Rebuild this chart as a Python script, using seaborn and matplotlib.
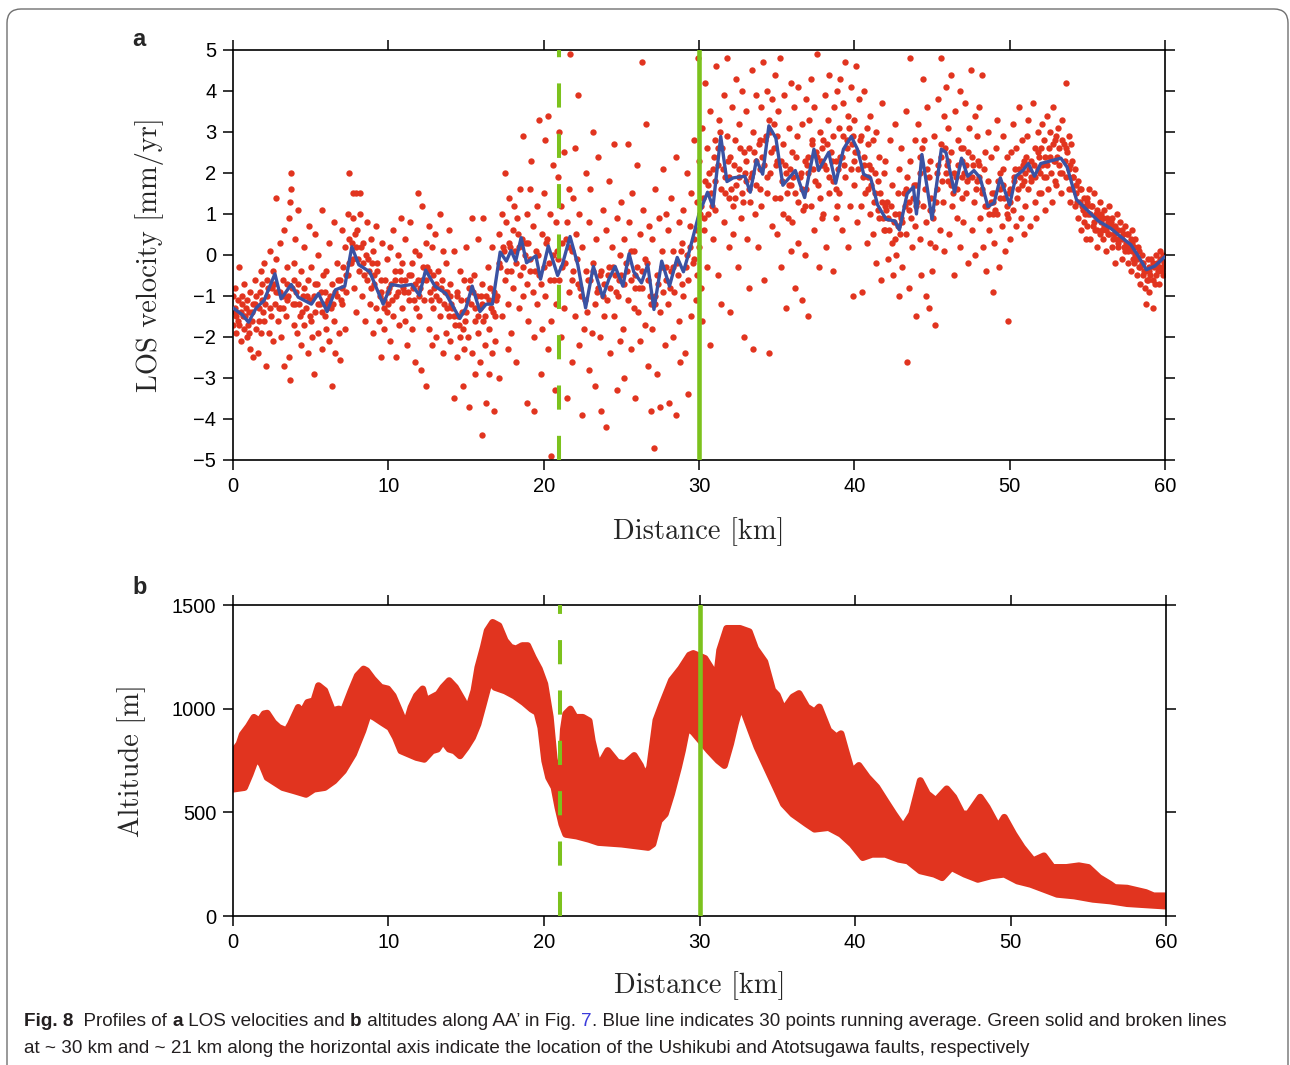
import matplotlib
matplotlib.use("Agg")
import matplotlib.pyplot as plt
from matplotlib.patches import FancyBboxPatch
from matplotlib.transforms import IdentityTransform
import seaborn as sns
import pandas as pd

# ---- panel a: LOS velocity samples (km, mm/yr) ----
los_pts_00_10 = [
    (0.0,-1.0),(0.0,-1.7),(0.1,-1.3),(0.1,-0.8),(0.2,-1.9),(0.2,-1.5),(0.3,-1.1),(0.4,-0.3),(0.4,-1.7),(0.5,-1.4),(0.5,-2.1),(0.6,-1.2),(0.7,-1.8),(0.7,-0.7),(0.8,-1.5),(0.9,-1.1),(0.9,-2.0),
    (1.0,-1.4),(1.1,-0.9),(1.1,-2.3),(1.2,-1.6),(1.3,-2.5),(1.3,-1.2),(1.4,-0.6),(1.5,-1.8),(1.5,-1.0),(1.6,-2.4),(1.7,-1.3),(1.8,-0.4),(1.8,-1.9),(1.9,-1.1),(1.9,-0.7),
    (2.0,-1.6),(2.0,-0.2),(2.1,-2.7),(2.2,-1.0),(2.2,-0.6),(2.3,-1.9),(2.4,-1.3),(2.4,0.1),(2.5,-0.8),(2.6,-2.1),(2.6,-0.4),(2.7,-1.2),(2.8,1.4),(2.8,-0.1),(2.9,-1.6),(2.9,-0.9),
    (3.0,-1.3),(3.0,0.3),(3.1,-2.0),(3.2,-0.6),(3.2,-1.0),(3.3,-2.7),(3.3,0.6),(3.4,-1.5),(3.5,-0.3),(3.5,-1.1),(3.6,-2.5),(3.6,0.9),(3.7,1.3),(3.7,-3.05),(3.75,2.0),(3.75,1.6),(3.8,-0.8),(3.9,-1.7),(3.9,-0.2),
    (4.0,-1.2),(4.0,0.4),(4.1,-1.9),(4.2,1.1),(4.2,-0.7),(4.3,-1.5),(4.4,-2.2),(4.4,-0.4),(4.5,-1.0),(4.6,0.2),(4.6,-1.7),(4.7,-1.3),(4.8,-2.4),(4.8,-0.6),(4.9,-1.1),(4.9,0.7),
    (5.0,-1.6),(5.0,-0.3),(5.1,-2.0),(5.2,-2.9),(5.2,-1.0),(5.3,0.5),(5.3,-1.4),(5.4,-0.7),(5.5,-1.9),(5.5,0.0),(5.6,-1.2),(5.7,1.1),(5.7,-2.3),(5.8,-0.5),(5.9,-1.5),(5.9,-0.9),
    (6.0,-1.8),(6.0,-0.4),(6.1,-1.1),(6.2,0.3),(6.2,-2.1),(6.3,-1.3),(6.4,-3.2),(6.4,-0.7),(6.5,-1.6),(6.5,0.8),(6.6,-2.4),(6.7,-0.2),(6.7,-1.0),(6.8,-1.9),(6.9,-2.55),(6.9,-0.6),
    (7.0,-1.2),(7.0,0.6),(7.1,-0.3),(7.2,-1.8),(7.2,0.2),(7.3,-0.9),(7.4,1.0),(7.4,-0.5),(7.5,2.0),(7.5,0.4),(7.6,-0.2),(7.7,1.5),(7.7,0.9),(7.8,-0.8),(7.9,1.5),(7.9,0.2),(7.95,-1.4),
    (8.0,0.6),(8.1,-0.4),(8.2,1.5),(8.2,1.0),(8.3,-1.0),(8.4,0.3),(8.4,-0.2),(8.5,-1.6),(8.6,0.8),(8.6,-0.6),(8.7,-0.1),(8.8,-1.2),(8.9,0.4),(8.9,-0.8),(9.0,-1.9),
    (9.0,0.1),(9.1,-0.5),(9.2,-1.3),(9.2,0.7),(9.3,-0.2),(9.4,-1.6),(9.5,-0.9),(9.5,-2.5),(9.6,0.3),(9.7,-1.1),(9.7,-1.8),(9.8,-0.6),(9.9,-1.4),(9.9,-0.1),
]
los_pts_10_20 = [
    (10.0,-1.2),(10.1,0.2),(10.1,-2.1),(10.2,-0.7),(10.3,-1.5),(10.3,0.6),(10.4,-0.4),(10.5,-2.5),(10.5,-1.0),(10.6,0.0),(10.7,-1.7),(10.8,-0.6),(10.8,0.9),(10.9,-1.3),(10.9,-0.2),
    (11.0,-0.9),(11.1,-1.6),(11.1,0.4),(11.2,-2.2),(11.3,-0.5),(11.3,-1.1),(11.4,0.8),(11.5,-0.2),(11.5,-1.8),(11.6,-0.8),(11.7,-2.6),(11.7,0.1),(11.8,-1.3),(11.9,-0.6),(11.9,1.5),
    (12.0,-1.5),(12.0,0.0),(12.1,-2.8),(12.2,-0.6),(12.2,1.2),(12.3,-1.1),(12.4,0.3),(12.4,-3.2),(12.5,-0.3),(12.6,-1.8),(12.6,0.7),(12.7,-0.9),(12.8,-2.2),(12.8,0.2),(12.9,-1.3),(12.9,-0.5),
    (13.0,0.5),(13.1,-1.0),(13.1,-2.0),(13.2,-0.4),(13.3,1.0),(13.3,-1.5),(13.4,-0.8),(13.5,-2.4),(13.5,0.1),(13.6,-1.2),(13.7,-0.2),(13.7,-1.9),(13.8,-0.9),(13.9,0.6),(13.9,-1.5),
    (14.0,-0.7),(14.0,-2.1),(14.1,-1.3),(14.2,0.1),(14.2,-3.5),(14.3,-1.7),(14.4,-0.9),(14.4,-2.5),(14.5,-1.5),(14.6,-0.4),(14.6,-2.0),(14.7,-1.1),(14.8,-1.8),(14.8,-3.2),(14.9,-0.6),(14.9,-2.3),
    (15.0,-1.4),(15.0,0.2),(15.1,-2.0),(15.2,-3.7),(15.2,-0.8),(15.3,-1.2),(15.4,0.9),(15.4,-2.4),(15.5,-0.5),(15.6,-1.6),(15.6,-2.9),(15.7,-1.0),(15.8,0.4),(15.8,-1.9),(15.9,-2.6),(15.9,-1.3),
    (16.0,-4.4),(16.0,-0.7),(16.1,-1.6),(16.1,0.9),(16.2,-2.2),(16.3,-3.6),(16.3,-1.0),(16.4,-0.3),(16.5,-1.8),(16.5,-2.9),(16.6,-1.3),(16.7,0.2),(16.7,-2.4),(16.8,-3.8),(16.8,-0.9),(16.9,-1.5),(16.9,-2.1),
    (17.0,-1.0),(17.1,0.5),(17.1,-3.0),(17.2,-0.3),(17.3,1.0),(17.3,-1.5),(17.4,0.2),(17.5,-0.6),(17.5,2.0),(17.6,0.8),(17.7,-1.2),(17.7,-2.3),(17.8,0.3),(17.8,1.4),(17.9,-0.4),(17.9,-1.9),
    (18.0,0.6),(18.0,-0.8),(18.1,1.2),(18.2,-0.2),(18.2,-2.6),(18.3,0.9),(18.4,0.2),(18.4,-1.3),(18.5,1.6),(18.5,-0.5),(18.6,0.4),(18.7,2.9),(18.7,-1.0),(18.8,0.0),(18.9,-3.6),(18.9,1.0),(18.95,-0.7),
    (19.0,0.3),(19.0,-1.6),(19.1,1.6),(19.1,-0.4),(19.2,2.3),(19.3,-0.9),(19.3,0.7),(19.4,-2.0),(19.4,-3.8),(19.5,0.1),(19.6,1.2),(19.6,-1.2),(19.7,3.3),(19.7,-0.5),(19.8,-2.9),(19.9,0.5),(19.9,-1.8),
]
los_pts_20_30 = [
    (20.0,1.5),(20.0,-0.3),(20.1,-1.0),(20.1,2.8),(20.2,0.4),(20.3,-2.3),(20.3,3.4),(20.4,-0.6),(20.4,1.0),(20.5,-1.6),(20.5,-4.9),(20.6,0.0),(20.6,2.2),(20.7,-3.3),(20.8,0.8),(20.8,-1.2),(20.9,-0.1),(20.9,1.9),
    (21.0,-0.6),(21.0,3.0),(21.1,1.2),(21.1,-2.0),(21.2,0.3),(21.3,-1.3),(21.3,2.5),(21.4,-0.2),(21.5,-3.5),(21.5,0.8),(21.6,1.6),(21.6,-0.9),(21.7,4.9),(21.8,0.1),(21.8,-2.6),(21.9,1.4),(21.9,-0.4),
    (22.0,2.6),(22.0,-1.5),(22.1,0.5),(22.2,-0.7),(22.2,3.9),(22.3,-2.2),(22.3,1.0),(22.4,-1.0),(22.5,-3.9),(22.5,0.2),(22.6,-1.8),(22.7,2.0),(22.7,-0.4),(22.8,-1.4),(22.9,-2.8),(22.9,0.8),
    (23.0,-0.6),(23.0,1.6),(23.1,-1.9),(23.2,3.0),(23.2,-0.2),(23.3,-1.2),(23.3,-3.2),(23.4,0.4),(23.5,-0.8),(23.5,2.4),(23.6,-2.0),(23.7,-0.4),(23.7,-3.8),(23.8,1.1),(23.9,-1.5),(23.9,-0.7),
    (24.0,-4.2),(24.0,0.6),(24.1,-1.1),(24.2,1.8),(24.2,-0.3),(24.3,-2.4),(24.3,-0.8),(24.4,0.2),(24.5,-1.5),(24.5,2.7),(24.6,-0.5),(24.7,-3.3),(24.7,0.9),(24.8,-1.0),(24.9,-2.1),(24.9,0.0),
    (25.0,-0.5),(25.0,1.3),(25.1,-1.8),(25.2,0.4),(25.2,-3.0),(25.3,-0.2),(25.4,2.7),(25.4,-1.1),(25.5,0.8),(25.6,-0.6),(25.6,-2.3),(25.7,1.5),(25.8,-1.3),(25.8,0.1),(25.9,-3.5),(25.9,-0.8),
    (26.0,2.2),(26.0,-0.3),(26.1,-1.4),(26.2,0.5),(26.2,-2.1),(26.3,4.7),(26.3,-0.8),(26.4,1.1),(26.5,-1.7),(26.5,-0.1),(26.6,3.2),(26.7,-2.7),(26.7,-0.6),(26.8,0.7),(26.9,-1.2),(26.9,-3.8),
    (27.0,-1.8),(27.0,0.4),(27.1,-4.7),(27.2,-1.0),(27.2,1.6),(27.3,-2.9),(27.3,-0.5),(27.4,0.9),(27.5,-1.4),(27.5,-3.7),(27.6,0.1),(27.7,-0.9),(27.7,2.1),(27.8,-2.2),(27.9,-0.3),(27.9,1.0),
    (28.0,-1.2),(28.0,0.6),(28.1,-3.6),(28.2,-0.4),(28.2,1.4),(28.3,-2.0),(28.3,0.1),(28.4,-0.9),(28.5,2.4),(28.5,-3.9),(28.6,-0.2),(28.7,0.8),(28.7,-1.6),(28.8,-2.6),(28.9,0.3),(28.9,-0.7),
    (29.0,1.1),(29.0,-1.0),(29.1,-2.4),(29.2,0.0),(29.2,2.0),(29.3,-0.6),(29.3,-3.4),(29.4,0.7),(29.5,-1.5),(29.5,1.5),(29.6,-0.2),(29.7,2.8),(29.7,0.4),(29.8,-1.1),(29.9,1.3),(29.9,-0.5),(29.95,4.8),
]
los_pts_30_40 = [
    (30.0,0.2),(30.0,2.3),(30.1,-0.8),(30.1,1.2),(30.2,3.1),(30.2,-1.6),(30.3,0.6),(30.4,1.8),(30.4,4.2),(30.5,-0.3),(30.5,2.6),(30.6,1.0),(30.7,-2.2),(30.7,3.5),(30.8,1.5),(30.9,0.4),(30.9,2.1),
    (31.0,2.8),(31.0,1.1),(31.1,4.6),(31.2,-0.5),(31.2,2.2),(31.3,3.3),(31.4,1.6),(31.4,-1.2),(31.5,2.6),(31.6,3.9),(31.6,0.8),(31.7,1.9),(31.8,4.8),(31.8,2.9),(31.9,0.2),(31.9,1.4),
    (32.0,2.4),(32.0,-1.4),(32.1,3.6),(32.2,1.2),(32.2,0.5),(32.3,2.8),(32.4,4.3),(32.4,1.7),(32.5,-0.3),(32.6,2.1),(32.6,3.2),(32.7,0.9),(32.8,1.5),(32.8,4.0),(32.9,2.5),(32.9,-2.0),
    (33.0,1.8),(33.0,3.5),(33.1,0.4),(33.2,2.6),(33.2,-0.8),(33.3,1.3),(33.4,4.5),(33.4,2.0),(33.5,-2.3),(33.5,3.0),(33.6,1.0),(33.7,2.3),(33.7,3.9),(33.8,0.2),(33.9,1.6),(33.9,2.8),
    (34.0,3.6),(34.0,1.2),(34.1,4.7),(34.2,2.2),(34.2,-0.6),(34.3,2.9),(34.4,1.5),(34.4,4.0),(34.5,3.3),(34.5,-2.4),(34.6,2.0),(34.7,0.7),(34.7,3.8),(34.8,2.6),(34.9,4.4),(34.9,1.4),
    (35.0,2.3),(35.0,0.5),(35.1,3.5),(35.2,1.4),(35.2,4.8),(35.3,-0.3),(35.4,2.7),(35.4,1.0),(35.5,3.9),(35.6,2.0),(35.6,-1.3),(35.7,0.9),(35.8,3.1),(35.8,1.7),(35.9,4.2),(35.9,0.1),
    (36.0,2.5),(36.0,0.8),(36.1,3.6),(36.2,1.5),(36.2,-0.8),(36.3,2.9),(36.4,0.3),(36.4,4.1),(36.5,1.9),(36.6,-1.1),(36.6,3.2),(36.7,1.1),(36.8,2.3),(36.8,0.0),(36.9,3.8),(36.9,1.6),
    (37.0,2.0),(37.0,-1.5),(37.1,3.3),(37.2,1.2),(37.2,4.3),(37.3,2.7),(37.4,0.6),(37.4,3.6),(37.5,1.8),(37.6,4.9),(37.6,2.4),(37.7,-0.3),(37.8,3.0),(37.8,1.4),(37.9,2.2),(37.9,0.9),
    (38.0,2.8),(38.0,1.0),(38.1,3.9),(38.2,2.1),(38.2,0.2),(38.3,3.3),(38.4,1.5),(38.4,4.4),(38.5,2.5),(38.6,-0.4),(38.6,1.8),(38.7,3.6),(38.8,0.9),(38.8,2.3),(38.9,4.0),(38.9,1.2),
    (39.0,3.1),(39.0,1.5),(39.1,4.3),(39.2,2.4),(39.2,0.6),(39.3,3.7),(39.4,1.9),(39.4,4.7),(39.5,2.8),(39.6,0.2),(39.6,3.4),(39.7,1.2),(39.8,2.1),(39.8,4.1),(39.9,2.9),(39.9,-1.0),
]
los_pts_40_50 = [
    (40.0,3.3),(40.0,1.7),(40.1,4.6),(40.2,2.5),(40.2,0.8),(40.3,3.8),(40.4,1.2),(40.4,2.9),(40.5,-0.9),(40.6,2.2),(40.6,4.0),(40.7,1.5),(40.8,3.1),(40.8,0.3),(40.9,1.9),(40.9,2.7),
    (41.0,1.0),(41.0,3.4),(41.1,2.1),(41.2,0.5),(41.2,2.8),(41.3,1.5),(41.4,-0.2),(41.4,3.0),(41.5,1.8),(41.6,0.9),(41.6,2.4),(41.7,-0.6),(41.8,1.3),(41.8,3.7),(41.9,0.6),(41.9,2.0),
    (42.0,0.6),(42.0,2.3),(42.1,1.3),(42.2,-0.1),(42.2,0.9),(42.3,2.8),(42.4,0.3),(42.4,1.7),(42.5,-0.5),(42.6,1.0),(42.6,3.2),(42.7,0.0),(42.8,1.5),(42.8,0.7),(42.9,2.1),(42.9,-1.0),
    (43.0,0.9),(43.0,2.6),(43.1,-0.3),(43.2,1.5),(43.3,0.5),(43.3,3.5),(43.4,1.9),(43.5,-0.8),(43.5,1.1),(43.6,4.8),(43.6,2.3),(43.7,0.2),(43.8,1.4),(43.4,-2.6),(43.9,2.8),(43.9,0.7),
    (44.0,1.7),(44.0,-1.5),(44.1,3.2),(44.2,0.4),(44.2,2.4),(44.3,-0.5),(44.4,4.3),(44.4,1.2),(44.5,2.8),(44.6,-1.0),(44.6,0.8),(44.7,3.6),(44.8,1.9),(44.8,-1.3),(44.9,2.3),(44.9,0.3),
    (45.0,1.1),(45.0,-0.4),(45.1,2.9),(45.2,0.2),(45.2,-1.7),(45.3,1.6),(45.4,3.8),(45.4,2.2),(45.5,0.6),(45.6,4.8),(45.6,2.7),(45.7,1.3),(45.8,3.4),(45.8,0.1),(45.9,2.0),(45.9,4.1),
    (46.0,1.8),(46.0,3.1),(46.1,0.5),(46.2,2.5),(46.2,4.4),(46.3,1.2),(46.4,-0.5),(46.4,2.0),(46.5,3.5),(46.6,0.9),(46.6,1.6),(46.7,2.8),(46.8,4.0),(46.8,0.2),(46.9,2.3),(46.9,1.4),
    (47.0,2.6),(47.0,0.8),(47.1,3.7),(47.2,1.5),(47.2,2.2),(47.3,-0.2),(47.4,3.1),(47.4,1.9),(47.5,4.5),(47.6,0.6),(47.6,2.4),(47.7,1.3),(47.8,3.4),(47.8,0.0),(47.9,1.8),(47.9,2.9),
    (48.0,2.2),(48.0,3.6),(48.1,0.9),(48.2,1.6),(48.2,4.4),(48.3,0.2),(48.4,2.5),(48.4,1.2),(48.5,-0.4),(48.6,1.8),(48.6,3.0),(48.7,0.6),(48.8,1.3),(48.8,2.4),(48.9,-0.9),(48.9,1.0),
    (49.0,1.5),(49.0,0.3),(49.1,2.6),(49.2,1.0),(49.2,3.3),(49.3,-0.3),(49.4,2.0),(49.4,1.4),(49.5,0.7),(49.6,2.9),(49.6,1.7),(49.7,0.1),(49.8,1.2),(49.8,2.4),(49.9,-1.6),(49.9,0.9),
]
los_pts_50_60 = [
    (50.0,1.6),(50.0,0.4),(50.1,2.5),(50.2,1.1),(50.2,3.2),(50.3,1.9),(50.4,0.7),(50.4,2.6),(50.5,1.4),(50.6,3.6),(50.6,2.1),(50.7,0.9),(50.8,1.7),(50.8,2.8),(50.9,0.5),(50.9,2.3),
    (51.0,2.0),(51.0,1.2),(51.1,2.9),(51.2,1.6),(51.2,3.3),(51.3,0.7),(51.4,2.3),(51.4,1.9),(51.5,3.7),(51.6,1.3),(51.6,2.6),(51.7,0.9),(51.8,2.1),(51.8,3.0),(51.9,1.5),(51.9,2.4),
    (52.0,2.6),(52.0,1.5),(52.1,3.2),(52.2,1.9),(52.2,2.8),(52.3,1.1),(52.4,3.4),(52.4,2.2),(52.5,1.6),(52.6,3.0),(52.6,2.4),(52.7,1.3),(52.8,2.7),(52.8,3.6),(52.9,1.8),(52.9,2.3),
    (53.0,2.9),(53.0,1.7),(53.1,3.1),(53.2,2.2),(53.2,2.6),(53.3,1.5),(53.4,3.3),(53.4,2.0),(53.5,2.7),(53.6,4.2),(53.6,1.9),(53.7,2.5),(53.8,1.6),(53.8,2.9),(53.9,2.2),(53.9,1.3),
    (54.0,2.3),(54.0,1.6),(54.1,1.9),(54.2,1.2),(54.2,2.1),(54.3,1.5),(54.4,0.9),(54.4,1.8),(54.5,1.3),(54.6,0.6),(54.6,1.6),(54.7,1.1),(54.8,1.4),(54.8,0.8),(54.9,1.2),(54.9,0.4),
    (55.0,1.3),(55.0,0.7),(55.1,1.6),(55.2,1.0),(55.2,0.4),(55.3,1.2),(55.4,0.8),(55.4,1.5),(55.5,0.6),(55.6,1.1),(55.6,0.2),(55.7,0.9),(55.8,1.3),(55.8,0.5),(55.9,0.8),(55.9,1.0),
    (56.0,0.9),(56.0,0.4),(56.1,1.1),(56.2,0.6),(56.2,0.1),(56.3,0.8),(56.4,1.2),(56.4,0.5),(56.5,0.7),(56.6,0.2),(56.6,0.9),(56.7,0.5),(56.8,0.7),(56.8,-0.2),(56.9,0.4),(56.9,1.0),
    (57.0,0.6),(57.0,0.2),(57.1,0.8),(57.2,0.4),(57.2,-0.1),(57.3,0.5),(57.4,0.1),(57.4,0.7),(57.5,0.3),(57.6,-0.2),(57.6,0.5),(57.7,0.2),(57.8,0.4),(57.8,-0.4),(57.9,0.1),(57.9,0.6),
    (58.0,0.2),(58.0,-0.2),(58.1,0.4),(58.2,-0.1),(58.2,-0.5),(58.3,0.1),(58.4,-0.3),(58.4,-0.7),(58.5,0.0),(58.6,-0.5),(58.6,-0.2),(58.7,-0.8),(58.8,-0.4),(58.8,-1.2),(58.9,-0.1),(58.9,-0.6),
    (59.0,-0.4),(59.0,-0.9),(59.1,-0.1),(59.2,-0.6),(59.2,-1.3),(59.3,-0.3),(59.4,0.0),(59.4,-0.5),(59.5,-0.2),(59.6,-0.7),(59.6,-0.3),(59.7,0.1),(59.8,-0.4),(59.8,-0.1),(59.9,-0.5),(59.9,0.0),
]
# the dense core of samples hugging the running average
los_pts_core = [
    (0.15,-1.4),(0.35,-1.6),(0.55,-1.0),(0.65,-1.5),(0.85,-1.3),(0.95,-1.7),(1.05,-1.9),(1.25,-1.4),(1.45,-1.2),(1.65,-1.6),(1.75,-0.9),(1.95,-1.4),
    (2.05,-1.2),(2.25,-0.8),(2.45,-1.5),(2.65,-0.7),(2.75,-0.9),(2.95,-1.3),(3.05,-0.9),(3.25,-1.3),(3.45,-0.7),(3.55,-1.0),(3.85,-1.2),(3.95,-0.6),
    (4.05,-0.9),(4.25,-1.2),(4.45,-1.4),(4.55,-0.8),(4.75,-1.0),(4.95,-1.5),(5.05,-1.1),(5.25,-0.7),(5.45,-1.2),(5.65,-0.9),(5.75,-1.4),(5.95,-1.2),
    (6.05,-1.3),(6.25,-1.0),(6.45,-1.2),(6.55,-0.9),(6.75,-0.6),(6.95,-1.1),(7.05,-0.8),(7.25,-0.5),(7.45,-0.2),(7.65,0.3),(7.75,-0.1),(7.85,0.5),
    (8.05,-0.1),(8.25,0.2),(8.45,-0.5),(8.55,0.0),(8.75,-0.4),(8.95,-0.2),(9.05,-0.7),(9.25,-0.4),(9.45,-1.0),(9.55,-0.6),(9.75,-1.3),(9.95,-0.9),
    (10.05,-0.8),(10.25,-1.1),(10.45,-0.6),(10.65,-0.9),(10.75,-0.4),(10.95,-0.8),(11.05,-0.6),(11.25,-0.9),(11.45,-0.5),(11.65,-1.1),(11.75,-0.7),(11.95,-1.0),
    (12.05,-0.8),(12.25,-0.3),(12.45,-0.6),(12.65,-0.4),(12.75,-1.1),(12.95,-0.8),(13.05,-0.7),(13.25,-1.1),(13.45,-0.6),(13.65,-0.9),(13.75,-1.3),(13.95,-1.0),
    (14.05,-1.2),(14.25,-1.5),(14.45,-1.0),(14.55,-1.7),(14.75,-1.4),(14.95,-1.6),(15.05,-1.1),(15.25,-0.6),(15.45,-0.9),(15.55,-1.3),(15.75,-1.5),(15.95,-1.0),
    (16.05,-1.2),(16.25,-1.5),(16.45,-1.1),(16.55,-0.8),(16.75,-1.4),(16.95,-1.1),
    (17.15,-0.2),(17.45,0.1),(17.65,-0.4),(17.85,0.2),(18.15,0.1),(18.35,0.5),(18.65,-0.3),(18.85,0.3),(19.15,-0.1),(19.45,-0.4),(19.65,0.0),(19.85,-0.7),
    (20.15,0.3),(20.35,-0.2),(20.65,-0.6),(20.85,0.1),(21.15,-0.3),(21.45,0.4),(21.65,0.2),(21.85,-0.6),(22.15,-0.1),(22.35,-0.8),(22.65,-1.1),(22.85,-0.6),
    (23.15,-0.4),(23.45,-0.9),(23.65,-0.5),(23.85,-1.0),(24.15,-0.5),(24.45,-0.3),(24.65,-0.9),(24.85,-0.6),(25.15,-0.7),(25.35,-0.4),(25.65,0.1),(25.85,-0.5),
    (26.15,-0.8),(26.35,-0.4),(26.65,-0.2),(26.85,-1.0),(27.15,-1.2),(27.35,-0.7),(27.65,-0.3),(27.85,-0.6),(28.15,-0.8),(28.35,-0.3),(28.65,-0.5),(28.85,0.1),
    (29.15,-0.3),(29.45,0.2),(29.65,-0.1),(29.85,0.6),
    (30.05,1.0),(30.25,1.4),(30.35,0.9),(30.55,1.7),(30.65,2.0),(30.85,1.2),(30.95,2.4),(31.05,1.8),(31.25,2.6),(31.35,3.0),(31.55,2.1),(31.65,1.5),(31.85,2.3),(31.95,1.9),
    (32.05,1.6),(32.25,2.2),(32.35,1.4),(32.55,1.9),(32.65,2.6),(32.85,1.3),(32.95,2.0),(33.05,2.3),(33.25,1.6),(33.35,1.9),(33.55,2.5),(33.65,1.7),(33.85,2.7),(33.95,2.1),
    (34.05,2.4),(34.25,2.8),(34.35,1.9),(34.55,3.0),(34.65,2.5),(34.85,3.2),(34.95,2.2),(35.05,2.9),(35.25,2.3),(35.35,1.8),(35.55,2.2),(35.65,1.5),(35.85,2.1),(35.95,1.7),
    (36.05,1.9),(36.25,2.4),(36.35,1.3),(36.55,2.0),(36.65,1.6),(36.85,1.2),(36.95,2.2),(37.05,2.4),(37.25,2.8),(37.35,2.1),(37.55,2.5),(37.65,1.7),(37.85,2.3),(37.95,2.6),
    (38.05,2.2),(38.25,2.7),(38.35,1.9),(38.55,2.3),(38.65,2.9),(38.85,1.6),(38.95,2.1),(39.05,2.4),(39.25,2.9),(39.35,2.2),(39.55,2.6),(39.65,3.1),(39.85,2.7),(39.95,2.3),
    (40.05,2.5),(40.25,2.1),(40.35,2.8),(40.55,1.9),(40.65,2.4),(40.85,1.6),(40.95,2.2),(41.05,1.7),(41.25,1.3),(41.35,2.0),(41.55,1.1),(41.65,1.5),(41.85,0.9),(41.95,1.2),
    (42.05,1.1),(42.25,0.6),(42.35,1.2),(42.55,0.8),(42.65,0.4),(42.85,1.0),(42.95,0.5),(43.05,0.8),(43.25,1.2),(43.35,1.6),(43.55,1.3),(43.65,0.9),(43.85,1.7),(43.95,1.2),
    (44.05,1.3),(44.25,2.0),(44.35,2.6),(44.55,1.6),(44.65,2.1),(44.85,1.1),(44.95,1.4),(45.05,0.9),(45.25,1.3),(45.35,2.0),(45.55,2.4),(45.65,1.8),(45.85,2.6),(45.95,2.2),
    (46.05,2.3),(46.25,1.7),(46.35,1.5),(46.55,1.9),(46.65,2.2),(46.85,2.6),(46.95,1.9),(47.05,2.0),(47.25,1.8),(47.35,2.5),(47.55,1.9),(47.65,2.2),(47.85,1.6),(47.95,2.3),
    (48.05,1.9),(48.25,1.5),(48.35,2.1),(48.55,1.2),(48.65,1.0),(48.85,1.5),(48.95,1.3),(49.05,1.1),(49.25,1.8),(49.35,1.6),(49.55,2.1),(49.65,1.4),(49.85,1.0),(49.95,1.5),
    (50.05,1.3),(50.25,1.8),(50.35,2.1),(50.55,1.6),(50.65,1.9),(50.85,2.2),(50.95,1.8),(51.05,2.4),(51.25,2.1),(51.35,1.8),(51.55,2.2),(51.65,1.9),(51.85,2.5),(51.95,2.0),
    (52.05,2.2),(52.25,2.4),(52.35,1.9),(52.55,2.6),(52.65,2.0),(52.85,2.3),(52.95,2.8),(53.05,2.4),(53.25,2.0),(53.35,2.8),(53.55,2.3),(53.65,2.6),(53.85,2.1),(53.95,2.7),
    (54.05,1.9),(54.25,1.7),(54.35,1.3),(54.55,1.6),(54.65,1.2),(54.85,1.0),(54.95,1.4),(55.05,1.0),(55.25,1.2),(55.35,0.7),(55.55,1.0),(55.65,0.6),(55.85,0.9),(55.95,0.6),
    (56.05,0.7),(56.25,0.9),(56.35,0.5),(56.55,0.8),(56.65,0.4),(56.85,0.6),(56.95,0.3),(57.05,0.4),(57.25,0.6),(57.35,0.2),(57.55,0.5),(57.65,0.1),(57.85,0.3),(57.95,-0.1),
    (58.05,0.0),(58.25,0.2),(58.35,-0.3),(58.55,-0.2),(58.65,-0.4),(58.85,-0.6),(58.95,-0.3),(59.05,-0.5),(59.25,-0.2),(59.35,-0.7),(59.55,-0.4),(59.65,-0.1),(59.85,-0.3),(59.95,-0.2),
]

# 30-point running average (blue line)
avg_km = [0.0, 0.6, 1.0, 1.5, 2.0, 2.7, 3.1, 3.75, 4.2, 5.05, 5.5, 6.06, 6.6, 7.2, 7.65, 8.1, 8.8, 9.67,
          10.2, 10.8, 11.5, 12.0, 12.4, 13.0, 13.7, 14.6, 15.0, 15.4, 15.9, 16.3, 16.7, 17.2, 17.6, 17.9,
          18.2, 18.55, 18.9, 19.5, 19.8, 20.3, 20.9, 21.2, 21.7, 22.2, 22.7, 23.2, 23.8, 24.2, 24.6, 25.1,
          25.5, 25.8, 26.3, 26.7, 27.1, 27.6, 28.1, 28.6, 29.0, 29.4, 30.0, 30.55, 30.9, 31.4, 31.8, 32.2,
          32.95, 33.3, 33.7, 34.1, 34.5, 34.95, 35.4, 35.8, 36.2, 36.8, 37.4, 37.7, 38.35, 38.8, 39.3, 39.8,
          40.2, 40.6, 41.05, 41.5, 42.05, 42.6, 42.9, 43.4, 43.8, 44.0, 44.35, 44.7, 45.0, 45.6, 45.9, 46.45,
          46.9, 47.3, 47.7, 48.1, 48.6, 49.0, 49.4, 50.0, 50.4, 50.85, 51.2, 51.6, 52.0, 52.5, 53.3, 53.7,
          54.3, 55.0, 55.7, 56.5, 57.2, 57.8, 58.3, 58.8, 59.35, 60.0]
avg_vel = [-1.29, -1.46, -1.64, -1.29, -1.11, -0.46, -1.07, -0.72, -1.03, -1.2, -0.94, -1.38, -0.85, -0.76, 0.2, -0.24, -0.41, -1.2,
           -0.72, -0.76, -0.72, -0.98, -0.37, -0.76, -0.94, -1.55, -1.29, -0.76, -1.38, -1.2, -1.2, 0.07, -0.15, 0.11,
           -0.15, 0.42, -0.19, -0.02, -0.59, 0.22, -0.5, -0.24, 0.45, -0.24, -1.29, -0.28, -1.03, -0.59, -0.28, -0.76,
           0.03, -0.41, -0.68, -0.24, -1.33, -0.15, -0.76, -0.06, -0.41, 0.12, 1.0, 1.53, 1.18, 2.89, 1.79, 1.88,
           1.92, 1.53, 2.32, 1.97, 3.15, 2.85, 1.7, 1.88, 2.06, 1.4, 2.58, 2.06, 2.5, 1.75, 2.58, 2.89,
           2.58, 1.97, 1.88, 1.22, 0.87, 0.83, 0.61, 1.49, 1.66, 1.0, 2.45, 1.62, 0.87, 2.58, 2.5, 1.53,
           2.36, 1.92, 2.06, 1.88, 1.18, 1.27, 1.88, 1.22, 1.92, 2.06, 2.23, 1.92, 2.23, 2.28, 2.36, 2.14,
           1.35, 1.09, 0.83, 0.65, 0.43, 0.25, -0.04, -0.36, -0.27, -0.04]

# ---- panel b: altitude envelope (km, m) ----
alt_top_km = [0.0, 0.1, 0.4, 0.6, 1.0, 1.35, 1.7, 2.0, 2.2, 2.6, 2.95, 3.45, 3.7, 4.2, 4.4, 4.8, 5.2, 5.5, 5.9,
              6.15, 6.4, 6.8, 7.1, 7.6, 8.0, 8.4, 8.6, 9.0, 9.5, 9.95, 10.3, 10.8, 11.1, 11.45, 11.8, 12.2,
              12.4, 12.8, 13.2, 13.5, 13.9, 14.3, 14.8, 15.1, 15.5, 15.75, 16.1, 16.35, 16.7, 17.1, 17.5,
              17.85, 18.2, 18.6, 18.95, 19.3, 19.7, 20.05, 20.4, 20.65, 20.9, 21.1, 21.25, 21.4, 21.7, 22.0,
              22.5, 22.9, 23.1, 23.5, 24.1, 24.7, 25.2, 25.8, 26.2, 26.5, 26.8, 27.2, 27.6, 28.2, 28.8,
              29.35, 29.6, 30.35, 30.75, 31.05, 31.3, 31.75, 32.6, 33.2, 33.6, 34.2, 34.7, 35.0, 35.4, 36.0,
              36.4, 36.9, 37.4, 37.7, 38.3, 38.8, 39.1, 39.4, 39.8, 40.25, 40.8, 41.4, 41.95, 42.5, 43.1,
              43.65, 44.2, 44.65, 45.2, 45.9, 46.35, 46.9, 47.3, 48.05, 48.5, 49.2, 49.6, 50.2, 50.75,
              51.45, 52.15, 52.7, 53.6, 54.4, 55.0, 55.7, 56.4, 56.7, 57.5, 58.7, 59.2, 60.0]
alt_top_m = [740, 800, 830, 875, 915, 958, 940, 975, 978, 933, 909, 893, 925, 1006, 974, 1030, 1038, 1111, 1087,
             1038, 990, 998, 990, 1087, 1159, 1191, 1183, 1143, 1103, 1095, 1062, 974, 917, 1006, 1062, 1095,
             1038, 1054, 1070, 1103, 1135, 1103, 1038, 990, 1087, 1199, 1296, 1376, 1416, 1400, 1328,
             1296, 1288, 1304, 1304, 1247, 1191, 1119, 960, 760, 660, 700, 900, 975, 998, 958,
             958, 941, 845, 718, 798, 742, 734, 774, 726, 669, 718, 944, 1024, 1137, 1194,
             1258, 1266, 1242, 1194, 1121, 1282, 1387, 1387, 1371, 1290, 1226, 1089, 1065, 992, 1056,
             1073, 1008, 984, 1008, 895, 863, 879, 798, 694, 726, 669, 621, 556, 492, 427,
             492, 653, 589, 556, 613, 573, 492, 492, 573, 524, 427, 476, 395, 331,
             266, 290, 234, 234, 242, 234, 185, 153, 137, 134, 113, 97, 97]
alt_bot_km = [0.0, 0.74, 1.1, 1.5, 1.85, 2.2, 2.7, 3.2, 3.95, 4.7, 5.2, 5.9, 6.5, 7.1, 7.75, 8.35, 8.7, 9.1,
              9.6, 10.1, 10.45, 10.8, 11.3, 11.8, 12.3, 12.8, 13.15, 13.5, 13.9, 14.25, 14.6, 15.0, 15.4,
              15.75, 16.1, 16.5, 16.85, 17.5, 18.1, 18.7, 19.2, 19.55, 19.8, 20.05, 20.3, 20.65, 20.9,
              21.15, 21.4, 22.1, 22.9, 23.5, 25.0, 26.7, 27.0, 27.4, 27.8, 28.2, 28.65, 28.9, 29.2, 29.6,
              30.05, 30.6, 31.2, 31.6, 32.0, 32.3, 32.6, 32.9, 33.3, 33.7, 34.3, 34.9, 35.4, 36.0, 36.9,
              37.4, 38.3, 39.1, 39.8, 40.5, 41.1, 41.95, 42.8, 43.4, 44.2, 45.1, 45.6, 46.2, 47.05, 47.9,
              48.75, 49.6, 50.45, 51.3, 52.15, 53.0, 54.1, 55.3, 56.4, 57.5, 58.95, 60.0]
alt_bot_m = [612, 620, 684, 765, 732, 668, 644, 620, 604, 587, 612, 620, 652, 700, 781, 893, 974, 958,
             933, 909, 861, 797, 781, 765, 756, 797, 805, 845, 805, 797, 773, 813, 861,
             925, 1022, 1135, 1103, 1086, 1062, 1030, 998, 982, 909, 748, 668, 620, 523,
             443, 394, 386, 370, 355, 347, 331, 347, 460, 492, 589, 718, 798, 911, 887,
             847, 798, 750, 726, 831, 927, 1008, 976, 895, 815, 718, 621, 540, 492, 444,
             419, 427, 395, 347, 282, 298, 298, 274, 266, 218, 202, 185, 234, 202, 177,
             194, 202, 169, 153, 129, 105, 97, 81, 73, 60, 53, 48]

fault_ushikubi_km = 30
fault_atotsugawa_km = 21

RED = "#e1341f"
BLUE = "#3a52a3"
GREEN = "#7cc21d"

sns.set_theme(style="ticks")
plt.rcParams["font.family"] = ["Liberation Sans", "DejaVu Sans"]
plt.rcParams["axes.unicode_minus"] = True

los = pd.DataFrame(los_pts_00_10 + los_pts_10_20 + los_pts_20_30 + los_pts_30_40
                   + los_pts_40_50 + los_pts_50_60 + los_pts_core, columns=["km", "vel"])
avg = pd.DataFrame({"km": avg_km, "vel": avg_vel})

fig = plt.figure(figsize=(12.9, 10.65), dpi=100)
ax1 = fig.add_axes([0.1806, 0.5681, 0.7225, 0.385])
ax2 = fig.add_axes([0.1806, 0.1399, 0.7233, 0.292])

# panel a
sns.scatterplot(data=los, x="km", y="vel", color=RED, s=21, linewidth=0, ax=ax1, zorder=2)
sns.lineplot(data=avg, x="km", y="vel", color=BLUE, lw=2.4, estimator=None, sort=False, ax=ax1, zorder=3)
ax1.axvline(fault_ushikubi_km, color=GREEN, lw=3.3, zorder=4)
ax1.axvline(fault_atotsugawa_km, color=GREEN, lw=2.9, dashes=(6, 6.5), zorder=4)
ax1.set_ylim(-5, 5)
ax1.set_yticks(range(-5, 6))

# panel b
ax2.fill(alt_top_km + alt_bot_km[::-1], alt_top_m + alt_bot_m[::-1],
         facecolor=RED, edgecolor=RED, lw=5, joinstyle="round", zorder=2)
ax2.axvline(fault_ushikubi_km, color=GREEN, lw=3.3, zorder=4)
ax2.axvline(fault_atotsugawa_km, color=GREEN, lw=2.9, dashes=(6, 6.5), zorder=4)
ax2.set_ylim(0, 1500)
ax2.set_yticks([0, 500, 1000, 1500])

for ax in (ax1, ax2):
    ax.set_xlim(0, 60)
    ax.set_xticks(range(0, 61, 10))
    ax.tick_params(direction="out", length=7, width=1.1, top=True, right=True,
                   labelsize=14.5, pad=5, colors="black")
    for sp in ax.spines.values():
        sp.set_visible(True)
        sp.set_linewidth(1.2)
        sp.set_color("black")
    ax.set_xlabel("Distance [km]", family="cmr10", fontsize=20.5)

ax1.set_ylabel("LOS velocity [mm/yr]", family="cmr10", fontsize=20.5)
ax2.set_ylabel("Altitude [m]", family="cmr10", fontsize=20.5)
ax1.yaxis.set_label_coords(-0.074, 0.5)
ax2.yaxis.set_label_coords(-0.093, 0.5)
ax1.xaxis.set_label_coords(0.5, -0.14)
ax2.xaxis.set_label_coords(0.5, -0.178)

fig.text(139 / 1290, 1 - 40 / 1065, "a", ha="center", va="center", weight="bold", fontsize=17)
fig.text(140 / 1290, 1 - 588 / 1065, "b", ha="center", va="center", weight="bold", fontsize=17)

# rounded frame around the figure
fig.patches.append(FancyBboxPatch((7, -30), 1281, 1086, boxstyle="round,pad=0,rounding_size=14",
                                  transform=IdentityTransform(), fill=False, ec="#707070", lw=1.0))

# caption
cap_font = "Liberation Sans"
cap_size = 13.6
renderer = fig.canvas.get_renderer()


def put_runs(runs, x, y):
    for txt, weight, color in runs:
        t = fig.text(x, y, txt, fontsize=cap_size, fontweight=weight, color=color,
                     family=cap_font, ha="left", va="baseline")
        x += t.get_window_extent(renderer=renderer).width / fig.bbox.width


INK = "#231f20"
put_runs([("Fig. 8", "bold", INK), ("  Profiles of ", "normal", INK), ("a", "bold", INK),
          (" LOS velocities and ", "normal", INK), ("b", "bold", INK),
          (" altitudes along AA\u2019 in Fig. ", "normal", INK), ("7", "normal", "#3b3bdb"),
          (". Blue line indicates 30 points running average. Green solid and broken lines", "normal", INK)],
         24 / 1290, 1 - 1026 / 1065)
put_runs([("at ~ 30 km and ~ 21 km along the horizontal axis indicate the location of the Ushikubi "
           "and Atotsugawa faults, respectively", "normal", INK)],
         24 / 1290, 1 - 1053 / 1065)

fig.savefig("out.png", dpi=100)
